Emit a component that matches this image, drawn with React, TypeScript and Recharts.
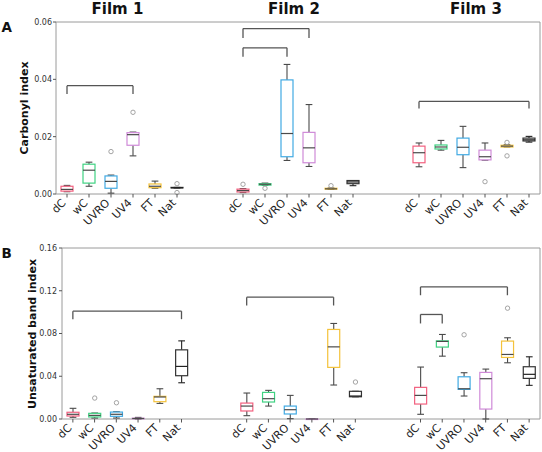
import { ComposedChart, Bar, XAxis, YAxis, ReferenceArea, ReferenceLine } from 'recharts';

const films = ['Film 1', 'Film 2', 'Film 3'];
const treatments = ['dC', 'wC', 'UVRO', 'UV4', 'FT', 'Nat'];
const treatmentColors = ['#f2607f', '#3fd282', '#41aae3', '#cf8ad8', '#f4c23a', '#333333'];

// box stats per treatment: [lower whisker, q1, median, q3, upper whisker]
const carbonylFilm1 = [
  [0.0008, 0.0010, 0.0016, 0.0027, 0.0030],
  [0.0027, 0.0038, 0.0083, 0.0104, 0.0111],
  [0.0003, 0.0020, 0.0044, 0.0063, 0.0066],
  [0.0133, 0.0170, 0.0207, 0.0214, 0.0216],
  [0.0020, 0.0022, 0.0027, 0.0035, 0.0045],
  [0.0021, 0.0022, 0.0022, 0.0023, 0.0023],
];
const carbonylFilm2 = [
  [0.0005, 0.0007, 0.0012, 0.0017, 0.0019],
  [0.0030, 0.0031, 0.0034, 0.0036, 0.0038],
  [0.0117, 0.0130, 0.0211, 0.0398, 0.0452],
  [0.0096, 0.0109, 0.0161, 0.0215, 0.0312],
  [0.0016, 0.0017, 0.0018, 0.0020, 0.0021],
  [0.0029, 0.0036, 0.0042, 0.0047, 0.0047],
];
const carbonylFilm3 = [
  [0.0095, 0.0109, 0.0144, 0.0167, 0.0178],
  [0.0153, 0.0157, 0.0164, 0.0171, 0.0187],
  [0.0092, 0.0137, 0.0163, 0.0195, 0.0236],
  [0.0118, 0.0119, 0.0130, 0.0153, 0.0178],
  [0.0164, 0.0164, 0.0167, 0.0170, 0.0172],
  [0.0181, 0.0185, 0.0189, 0.0195, 0.0201],
];
const carbonylOutliers1 = [[], [], [0.0148], [0.0285], [], [0.0036, 0.0005]];
const carbonylOutliers2 = [[0.0034], [0.0020], [], [], [0.0029], []];
const carbonylOutliers3 = [[], [], [], [0.0043], [0.0180, 0.0133], []];

const unsatFilm1 = [
  [0.0016, 0.0028, 0.0044, 0.0063, 0.0100],
  [0.0009, 0.0019, 0.0034, 0.0053, 0.0056],
  [0.0009, 0.0025, 0.0044, 0.0065, 0.0068],
  [0.0000, 0.0003, 0.0005, 0.0007, 0.0015],
  [0.0146, 0.0162, 0.0206, 0.0212, 0.0283],
  [0.0339, 0.0405, 0.0492, 0.0647, 0.0731],
];
const unsatFilm2 = [
  [0.0031, 0.0075, 0.0121, 0.0149, 0.0243],
  [0.0121, 0.0159, 0.0190, 0.0249, 0.0268],
  [0.0003, 0.0047, 0.0087, 0.0121, 0.0221],
  [0.0000, 0.0000, 0.0000, 0.0000, 0.0002],
  [0.0318, 0.0483, 0.0675, 0.0838, 0.0894],
  [0.0208, 0.0208, 0.0215, 0.0259, 0.0259],
];
const unsatFilm3 = [
  [0.0044, 0.0140, 0.0221, 0.0296, 0.0486],
  [0.0588, 0.0673, 0.0726, 0.0731, 0.0791],
  [0.0215, 0.0277, 0.0283, 0.0395, 0.0433],
  [0.0000, 0.0093, 0.0377, 0.0436, 0.0467],
  [0.0526, 0.0576, 0.0604, 0.0729, 0.0760],
  [0.0315, 0.0380, 0.0418, 0.0489, 0.0582],
];
const unsatOutliers1 = [[], [0.0196], [0.0152], [], [], []];
const unsatOutliers2 = [[], [], [], [], [], [0.0346]];
const unsatOutliers3 = [[], [], [0.0788], [], [0.1037], []];

type Bracket = { film: number; from: string; to: string; top: number; foot: number };
const carbonylBrackets: Bracket[] = [
  { film: 0, from: 'dC', to: 'UV4', top: 0.0378, foot: 0.0349 },
  { film: 1, from: 'dC', to: 'UV4', top: 0.0577, foot: 0.0544 },
  { film: 1, from: 'dC', to: 'UVRO', top: 0.0510, foot: 0.0479 },
  { film: 2, from: 'dC', to: 'Nat', top: 0.0323, foot: 0.0298 },
];
const unsatBrackets: Bracket[] = [
  { film: 0, from: 'dC', to: 'Nat', top: 0.1009, foot: 0.0934 },
  { film: 1, from: 'dC', to: 'FT', top: 0.1140, foot: 0.1062 },
  { film: 2, from: 'dC', to: 'FT', top: 0.1236, foot: 0.1158 },
  { film: 2, from: 'dC', to: 'wC', top: 0.0978, foot: 0.0894 },
];

const carbonylTicks = [0, 0.02, 0.04, 0.06];
const unsatTicks = [0, 0.04, 0.08, 0.12, 0.16];

const rowKey = (f: number, t: string) => `${f}|${t}`;

function buildRows(boxes: number[][][], outliers: number[][][]) {
  const rows: any[] = [];
  boxes.forEach((film, f) => {
    if (f > 0) {
      rows.push({ key: `gap${f}a` });
      rows.push({ key: `gap${f}b` });
    }
    film.forEach((s, t) => {
      const out = outliers[f][t];
      rows.push({
        key: rowKey(f, treatments[t]),
        color: treatmentColors[t],
        low: s[0], q1: s[1], med: s[2], q3: s[3], high: s[4],
        out,
        top: Math.max(s[4], ...out),
      });
    });
  });
  return rows;
}

const carbonylRows = buildRows(
  [carbonylFilm1, carbonylFilm2, carbonylFilm3],
  [carbonylOutliers1, carbonylOutliers2, carbonylOutliers3]
);
const unsatRows = buildRows(
  [unsatFilm1, unsatFilm2, unsatFilm3],
  [unsatOutliers1, unsatOutliers2, unsatOutliers3]
);

// box drawn inside the bar rect: bar goes 0..top, so quartiles are mapped inside it
const BoxShape = (props: any) => {
  const { x, y, width, height, payload } = props;
  if (!payload || payload.top == null || !height) return null;
  const zeroY = y + height;
  const toY = (v: number) => zeroY - (height * v) / payload.top;
  const cx = x + width / 2;
  const cap = width * 0.28;
  const line = payload.color === '#333333' ? '#222' : '#4a4a4a';
  return (
    <g>
      <line x1={cx} x2={cx} y1={toY(payload.high)} y2={toY(payload.q3)} stroke={line} strokeWidth={1.1} />
      <line x1={cx} x2={cx} y1={toY(payload.q1)} y2={toY(payload.low)} stroke={line} strokeWidth={1.1} />
      <line x1={cx - cap} x2={cx + cap} y1={toY(payload.high)} y2={toY(payload.high)} stroke={line} strokeWidth={1.1} />
      <line x1={cx - cap} x2={cx + cap} y1={toY(payload.low)} y2={toY(payload.low)} stroke={line} strokeWidth={1.1} />
      <rect
        x={x}
        y={toY(payload.q3)}
        width={width}
        height={Math.max(toY(payload.q1) - toY(payload.q3), 0.5)}
        fill="#fff"
        stroke={payload.color}
        strokeWidth={1.2}
      />
      <line x1={x} x2={x + width} y1={toY(payload.med)} y2={toY(payload.med)} stroke={line} strokeWidth={1.2} />
      {payload.out.map((v: number, i: number) => (
        <circle key={i} cx={cx} cy={toY(v)} r={2.2} fill="none" stroke="#9a9a9a" strokeWidth={0.9} />
      ))}
    </g>
  );
};

const CategoryTick = (props: any) => {
  const { x, y, payload } = props;
  const value = String(payload.value);
  if (!value.includes('|')) return null;
  const label = value.split('|')[1];
  const ax = x - 0.5;
  const ay = y + 9.5;
  return (
    <g>
      <line x1={x} x2={x} y1={y} y2={y + 3.5} stroke="#555" />
      <text
        x={ax}
        y={ay}
        transform={`rotate(-45 ${ax} ${ay})`}
        textAnchor="end"
        fontSize={11}
        fill="#222"
        fontFamily="DejaVu Sans"
      >
        {label}
      </text>
    </g>
  );
};

interface PanelProps {
  rows: any[];
  ticks: number[];
  brackets: Bracket[];
  yWidth: number;
  tickMargin: number;
  xHeight: number;
  height: number;
  bottom: number;
}

const Panel = ({ rows, ticks, brackets, yWidth, tickMargin, xHeight, height, bottom }: PanelProps) => {
  const yMax = ticks[ticks.length - 1];
  return (
    <ComposedChart width={542} height={height} data={rows} margin={{ top: 22, right: 2, bottom, left: 0 }} style={{ overflow: 'visible' }}>
      <XAxis
        dataKey="key"
        interval={0}
        tickLine={false}
        axisLine={false}
        tickSize={0}
        tickMargin={0}
        height={xHeight}
        tick={(p: any) => <CategoryTick {...p} />}
      />
      <YAxis
        type="number"
        domain={[0, yMax]}
        ticks={ticks}
        width={yWidth}
        axisLine={false}
        tickSize={3}
        tickMargin={tickMargin}
        tickLine={{ stroke: '#555' }}
        tick={{ fontSize: 8, fill: '#333', fontFamily: 'DejaVu Sans' }}
        tickFormatter={(v: number) => v.toFixed(2)}
      />
      <ReferenceArea y1={0} y2={yMax} fill="none" stroke="#9a9a9a" strokeWidth={1} ifOverflow="visible" />
      {brackets.map((b, i) => {
        const a = rowKey(b.film, b.from);
        const c = rowKey(b.film, b.to);
        return [
          <ReferenceLine key={`l${i}`} segment={[{ x: a, y: b.foot }, { x: a, y: b.top }]} stroke="#555" strokeWidth={1.3} ifOverflow="visible" />,
          <ReferenceLine key={`m${i}`} segment={[{ x: a, y: b.top }, { x: c, y: b.top }]} stroke="#555" strokeWidth={1.3} ifOverflow="visible" />,
          <ReferenceLine key={`r${i}`} segment={[{ x: c, y: b.top }, { x: c, y: b.foot }]} stroke="#555" strokeWidth={1.3} ifOverflow="visible" />,
        ];
      })}
      <Bar dataKey="top" barSize={12} shape={(p: any) => <BoxShape {...p} />} isAnimationActive={false} />
    </ComposedChart>
  );
};

const titleX = [117.5, 294, 476];

const App = () => {
  return (
    <div style={{ position: 'absolute', left: 0, top: 0, width: 542, height: 452, background: '#fff', overflow: 'hidden' }}>
      <div style={{ position: 'absolute', left: 0, top: 226 }}>
        <Panel rows={unsatRows} ticks={unsatTicks} brackets={unsatBrackets} yWidth={62} tickMargin={2} xHeight={33} height={226} bottom={0} />
      </div>
      <div style={{ position: 'absolute', left: 0, top: 0 }}>
        <Panel rows={carbonylRows} ticks={carbonylTicks} brackets={carbonylBrackets} yWidth={56} tickMargin={1} xHeight={32} height={240} bottom={14} />
      </div>
      <svg width={542} height={452} style={{ position: 'absolute', left: 0, top: 0, pointerEvents: 'none' }}>
        <g fontFamily="DejaVu Sans" fontWeight="bold" fill="#111">
          {films.map((f, i) => (
            <text key={f} x={titleX[i]} y={13.5} textAnchor="middle" fontSize={15}>{f}</text>
          ))}
          <text x={1.5} y={31.7} fontSize={13.5}>A</text>
          <text x={1.5} y={258.3} fontSize={13.5}>B</text>
          <text x={28} y={108} transform="rotate(-90 28 108)" textAnchor="middle" fontSize={11}>Carbonyl index</text>
          <text x={35.5} y={334} transform="rotate(-90 35.5 334)" textAnchor="middle" fontSize={11}>Unsaturated band index</text>
        </g>
      </svg>
    </div>
  );
};

export default App;
